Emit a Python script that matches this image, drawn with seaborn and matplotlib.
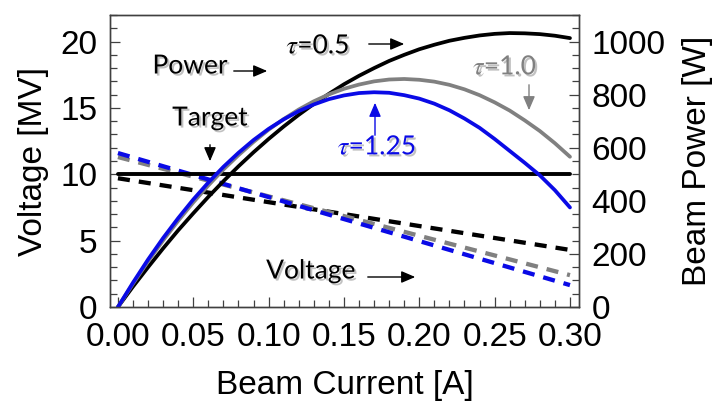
import numpy as np
import pandas as pd
import matplotlib
matplotlib.use("Agg")
import matplotlib.pyplot as plt
import matplotlib.patheffects as pe
from matplotlib.ticker import MultipleLocator, FormatStrFormatter
import seaborn as sns

# ---- data ----
current = [0.00, 0.01, 0.02, 0.03, 0.04, 0.05, 0.06, 0.07, 0.08, 0.09,
           0.10, 0.11, 0.12, 0.13, 0.14, 0.15, 0.16, 0.17, 0.18, 0.19,
           0.20, 0.21, 0.22, 0.23, 0.24, 0.25, 0.26, 0.27, 0.28, 0.29, 0.30]
power_tau05 = [0, 77, 150, 221, 289, 353, 415, 474, 530, 583,
               633, 680, 724, 765, 803, 839, 871, 900, 927, 950,
               971, 988, 1003, 1014, 1023, 1029, 1032, 1031, 1028, 1022, 1013]
power_tau10 = [0, 88, 172, 251, 325, 394, 458, 518, 572, 622,
               668, 708, 744, 775, 801, 822, 838, 850, 857, 859,
               856, 849, 837, 820, 798, 771, 740, 703, 663, 617, 566]
power_tau125 = [0, 92, 179, 260, 335, 405, 469, 528, 581, 629,
                671, 707, 738, 763, 783, 797, 806, 809, 807, 798,
                785, 766, 741, 710, 675, 633, 588, 543, 496, 440, 375]

volt_current = [0.00, 0.30]
volt_tau05 = [9.7, 4.3]
volt_tau10 = [11.3, 2.4]
volt_tau125 = [11.6, 1.65]
target_volt = [10.0, 10.0]

BLACK = "#000000"
GRAY = "#808080"
BLUE = "#0a0ae6"

sns.set_theme(style="white")
plt.rcParams["font.family"] = ["Liberation Sans", "DejaVu Sans"]
plt.rcParams["mathtext.fontset"] = "stix"
for k in ["text.color", "axes.labelcolor", "xtick.color", "ytick.color"]:
    plt.rcParams[k] = "black"

fig = plt.figure(figsize=(7.15, 4.09), dpi=100)
ax = fig.add_axes([0.1538, 0.2494, 0.6560, 0.7139])
ax2 = ax.twinx()

pal = {"0.5": BLACK, "1.0": GRAY, "1.25": BLUE}
vdf = pd.DataFrame({"I": volt_current * 3,
                    "V": volt_tau05 + volt_tau10 + volt_tau125,
                    "tau": ["0.5"] * 2 + ["1.0"] * 2 + ["1.25"] * 2})
for t in ["0.5", "1.0", "1.25"]:
    sub = vdf[vdf["tau"] == t]
    sns.lineplot(data=sub, x="I", y="V", ax=ax, color=pal[t], lw=3.1,
                 estimator=None, sort=False, legend=False)
    ax.lines[-1].set_dashes((2.8, 2.1))

tdf = pd.DataFrame({"I": volt_current, "V": target_volt})
sns.lineplot(data=tdf, x="I", y="V", ax=ax, color=BLACK, lw=2.8,
             estimator=None, legend=False)

n = len(current)
pdf = pd.DataFrame({"I": current * 3,
                    "P": power_tau05 + power_tau10 + power_tau125,
                    "tau": ["0.5"] * n + ["1.0"] * n + ["1.25"] * n})
for t in ["0.5", "1.0", "1.25"]:
    sub = pdf[pdf["tau"] == t]
    sns.lineplot(data=sub, x="I", y="P", ax=ax2, color=pal[t], lw=2.7,
                 estimator=None, sort=False, legend=False)

# ---- axes ----
ax.set_xlim(-0.0053, 0.306)
ax.set_ylim(0, 22)
ax2.set_ylim(0, 1100)
ax.xaxis.set_major_locator(MultipleLocator(0.05))
ax.xaxis.set_minor_locator(MultipleLocator(0.01))
ax.xaxis.set_major_formatter(FormatStrFormatter("%.2f"))
ax.yaxis.set_major_locator(MultipleLocator(5))
ax.yaxis.set_minor_locator(MultipleLocator(1))
ax2.yaxis.set_major_locator(MultipleLocator(200))
ax2.yaxis.set_minor_locator(MultipleLocator(50))

spine_col = "#404040"
for a in (ax, ax2):
    for s in a.spines.values():
        s.set_visible(True)
        s.set_color(spine_col)
        s.set_linewidth(1.0)
    a.tick_params(which="both", direction="in", color=spine_col, width=0.9,
                  labelcolor="black")
    a.tick_params(which="major", length=7, labelsize=24, pad=9)
    a.tick_params(which="minor", length=5)
    a.grid(False)
ax.tick_params(axis="y", which="both", left=True, right=False)
ax.tick_params(axis="x", which="both", bottom=True, top=False)
ax.tick_params(axis="x", which="major", pad=11)
ax2.tick_params(axis="y", which="both", right=True, left=False)

ax.set_xlabel("Beam Current [A]", fontsize=24, labelpad=12, color="black")
ax.set_ylabel("Voltage [MV]", fontsize=24, labelpad=8, color="black")
ax2.set_ylabel("Beam Power [W]", fontsize=24, labelpad=12, color="black")

# ---- annotations (figure pixel coordinates, origin top-left) ----
W, H = 715, 409
def fx(px):
    return px / W
def fy(py):
    return 1 - py / H

shadow = [pe.SimplePatchShadow(offset=(1.5, -1.5), shadow_rgbFace="#999999", alpha=0.6),
          pe.Normal()]
afont = ["Lato", "DejaVu Sans"]

def label(txt, x, y, color, size=19):
    fig.text(fx(x), fy(y), txt, color=color, fontsize=size, family=afont,
             ha="center", va="center", path_effects=shadow, zorder=10)

def arrow(x0, y0, x1, y1, color, lw=1.0):
    fig.add_artist(matplotlib.patches.FancyArrowPatch(
        (fx(x0), fy(y0)), (fx(x1), fy(y1)), transform=fig.transFigure,
        arrowstyle="-|>,head_length=0.7,head_width=0.3", mutation_scale=12,
        color=color, lw=lw, zorder=10))

label("Power", 190, 66, BLACK)
arrow(231, 71, 270, 71, BLACK)
label("Target", 210, 118, BLACK)
arrow(210, 142, 210, 164, BLACK)
label(r"$\tau$=0.5", 318, 46, BLACK)
arrow(366, 44, 407, 44, BLACK)
label(r"$\tau$=1.0", 505, 67, GRAY)
arrow(529, 82, 529, 113, GRAY)
label(r"$\tau$=1.25", 377, 147, BLUE)
arrow(375, 138, 375, 100, BLUE)
label("Voltage", 311, 271, BLACK)
arrow(365, 277, 418, 277, BLACK)

fig.savefig("out.png", dpi=100)
